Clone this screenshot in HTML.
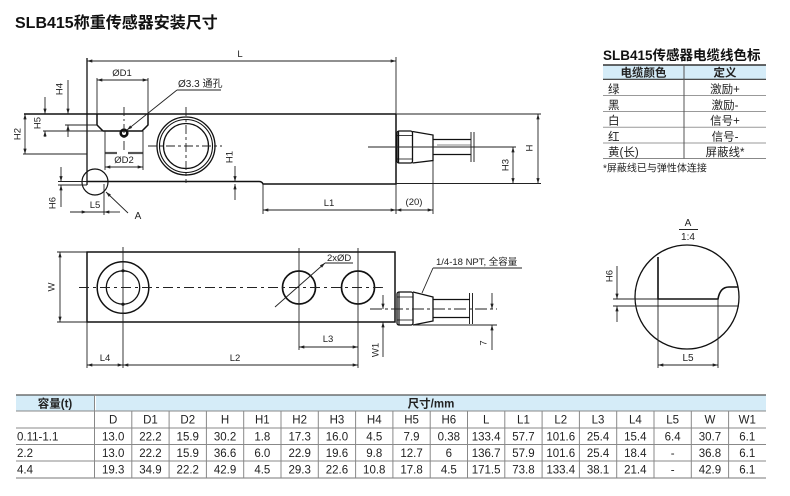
<!DOCTYPE html>
<html><head><meta charset="utf-8"><style>
html,body{margin:0;padding:0;background:#fff;}
svg{display:block;}
text{font-family:"Liberation Sans","Noto Sans CJK SC",sans-serif;fill:#222;}
</style></head><body>
<svg width="790" height="496" viewBox="0 0 790 496" xmlns="http://www.w3.org/2000/svg">
<defs>
<marker id="a" viewBox="0 0 10 6" refX="10" refY="3" markerWidth="6" markerHeight="3.2" markerUnits="userSpaceOnUse" orient="auto-start-reverse"><path d="M0,0L10,3L0,6z" fill="#222"/></marker>
</defs>

<text x="15" y="28" font-size="16" font-weight="bold" style="fill:#111">SLB415称重传感器安装尺寸</text>

<!-- ============ TOP VIEW ============ -->
<g fill="none" stroke="#111" stroke-width="1.5">
  <line x1="24" y1="114" x2="396" y2="114"/>
  <line x1="87" y1="58" x2="87" y2="185" stroke-width="1.3"/>
  <path d="M87,181.5 H259 Q262,181.5 263,184 H396 V114"/>
  <path d="M97,114 V125 L103,131 H142 L148,125 V114"/>
  <circle cx="186" cy="146" r="29" stroke-width="1.3"/>
  <circle cx="186" cy="146" r="26.5" stroke-width="1.1"/>
  <circle cx="186" cy="146" r="22.5" stroke-width="1.3"/>
  <circle cx="124" cy="133" r="3.3" stroke-width="2.6"/>
  <circle cx="95" cy="182" r="13" stroke-width="1.2"/>
  <!-- gland top -->
  <rect x="397" y="131" width="15.5" height="32" rx="2" stroke-width="1.3"/>
  <line x1="398.5" y1="131" x2="398.5" y2="163" stroke-width="1.3"/>
  <line x1="397" y1="135.5" x2="412.5" y2="135.5" stroke-width="0.8"/>
  <line x1="397" y1="159" x2="412.5" y2="159" stroke-width="0.8"/>
  <path d="M412.5,131.5 L433,135 V160.5 L412.5,163" stroke-width="1.3"/>
  <line x1="433" y1="139.5" x2="470.5" y2="139.5" stroke-width="1.2"/>
  <line x1="433" y1="154.5" x2="470.5" y2="154.5" stroke-width="1.2"/>
  <line x1="437" y1="145" x2="470.5" y2="145" stroke-width="0.6"/>
  <line x1="471" y1="132" x2="471" y2="162" stroke-width="0.9"/>
  <line x1="474" y1="132" x2="474" y2="162" stroke-width="0.9"/>
</g>
<g fill="none" stroke="#222" stroke-width="0.9">
  <!-- thick hidden dashes -->
  <line x1="105" y1="153" x2="117" y2="153" stroke="#555" stroke-width="2.2"/>
  <line x1="128" y1="153" x2="143" y2="153" stroke="#555" stroke-width="2.2"/>
  <!-- ext lines -->
  <line x1="396" y1="57" x2="396" y2="114"/>
  <line x1="97" y1="78" x2="97" y2="114"/>
  <line x1="148" y1="78" x2="148" y2="114"/>
  <line x1="65" y1="125" x2="97" y2="125"/>
  <line x1="43" y1="131" x2="103" y2="131"/>
  <line x1="23" y1="154" x2="87" y2="154"/>
  <line x1="105" y1="131" x2="105" y2="170"/>
  <line x1="143" y1="131" x2="143" y2="170"/>
  <line x1="58" y1="181.5" x2="87" y2="181.5"/>
  <line x1="58" y1="185" x2="87" y2="185"/>
  <line x1="104" y1="184" x2="104" y2="215"/>
  <line x1="263" y1="184" x2="263" y2="214"/>
  <line x1="396" y1="184" x2="396" y2="214"/>
  <line x1="433" y1="161" x2="433" y2="214"/>
  <line x1="396" y1="114" x2="541" y2="114"/>
  <line x1="396" y1="183.5" x2="541" y2="183.5"/>
  <!-- centerlines -->
  <line x1="124" y1="107" x2="124" y2="152" stroke-dasharray="9,3,2,3"/>
  <line x1="148" y1="146" x2="222" y2="146" stroke-dasharray="9,3,3,3"/>
  <line x1="186" y1="107" x2="186" y2="183" stroke-dasharray="9,3,3,3"/>
  <line x1="368" y1="147" x2="516" y2="147"/>
  <!-- dimensions -->
  <line x1="87" y1="61" x2="396" y2="61" marker-start="url(#a)" marker-end="url(#a)"/>
  <line x1="97" y1="80" x2="148" y2="80" marker-start="url(#a)" marker-end="url(#a)"/>
  <line x1="105" y1="167" x2="143" y2="167" marker-start="url(#a)" marker-end="url(#a)"/>
  <line x1="177" y1="90" x2="127" y2="130" marker-end="url(#a)"/>
  <line x1="177" y1="90" x2="221" y2="90"/>
  <line x1="68" y1="80" x2="68" y2="114" marker-end="url(#a)"/>
  <line x1="68" y1="137" x2="68" y2="125" marker-end="url(#a)"/>
  <line x1="45" y1="97" x2="45" y2="114" marker-end="url(#a)"/>
  <line x1="45" y1="137" x2="45" y2="131" marker-end="url(#a)"/>
  <line x1="25" y1="114" x2="25" y2="154" marker-start="url(#a)" marker-end="url(#a)"/>
  <line x1="61" y1="167" x2="61" y2="181.5" marker-end="url(#a)"/>
  <line x1="61" y1="207" x2="61" y2="185" marker-end="url(#a)"/>
  <line x1="235" y1="166" x2="235" y2="181.5" marker-end="url(#a)"/>
  <line x1="235" y1="200" x2="235" y2="184" marker-end="url(#a)"/>
  <line x1="70" y1="212" x2="87" y2="212" marker-end="url(#a)"/>
  <line x1="87" y1="212" x2="104" y2="212"/>
  <line x1="120" y1="212" x2="104" y2="212" marker-end="url(#a)"/>
  <line x1="128" y1="213" x2="106" y2="192" marker-end="url(#a)"/>
  <line x1="263" y1="210" x2="396" y2="210" marker-start="url(#a)" marker-end="url(#a)"/>
  <line x1="396" y1="210" x2="433" y2="210" marker-start="url(#a)" marker-end="url(#a)"/>
  <line x1="538" y1="114" x2="538" y2="183.5" marker-start="url(#a)" marker-end="url(#a)"/>
  <line x1="513" y1="147" x2="513" y2="183.5" marker-start="url(#a)" marker-end="url(#a)"/>
</g>
<g font-size="9.5" text-anchor="middle">
  <text x="240" y="57">L</text>
  <text x="122" y="76">ØD1</text>
  <text x="124" y="163">ØD2</text>
  <text x="178" y="87" text-anchor="start" font-size="10">Ø3.3 通孔</text>
  <text x="95" y="208">L5</text>
  <text x="138" y="219" font-size="10">A</text>
  <text x="329" y="206">L1</text>
  <text x="414" y="205">(20)</text>
  <text transform="translate(60,89) rotate(-90)" dominant-baseline="central">H4</text>
  <text transform="translate(38,123) rotate(-90)" dominant-baseline="central">H5</text>
  <text transform="translate(18,134) rotate(-90)" dominant-baseline="central">H2</text>
  <text transform="translate(53,203) rotate(-90)" dominant-baseline="central">H6</text>
  <text transform="translate(230,157) rotate(-90)" dominant-baseline="central">H1</text>
  <text transform="translate(530,148) rotate(-90)" dominant-baseline="central">H</text>
  <text transform="translate(506,165) rotate(-90)" dominant-baseline="central">H3</text>
</g>

<!-- ============ MIDDLE VIEW ============ -->
<g fill="none" stroke="#111" stroke-width="1.5">
  <rect x="87" y="252" width="308" height="70"/>
  <circle cx="123" cy="287.5" r="25.8"/>
  <circle cx="123" cy="287.5" r="16.7" stroke-width="1.3"/>
  <circle cx="299" cy="287.5" r="16.5" stroke-width="1.7"/>
  <circle cx="358" cy="287.5" r="16.5" stroke-width="1.7"/>
  <rect x="397" y="292" width="16" height="33" rx="2" stroke-width="1.3"/>
  <line x1="399" y1="292" x2="399" y2="325" stroke-width="1.2"/>
  <line x1="397" y1="297" x2="413" y2="297" stroke-width="0.8"/>
  <line x1="397" y1="320" x2="413" y2="320" stroke-width="0.8"/>
  <path d="M413,292 L433,297 V321 L413,325" stroke-width="1.3"/>
  <line x1="433" y1="299.5" x2="470" y2="299.5" stroke-width="1.2"/>
  <line x1="433" y1="317.5" x2="470" y2="317.5" stroke-width="1.2"/>
  <line x1="469.5" y1="293" x2="469.5" y2="324" stroke-width="0.9"/>
  <line x1="472.5" y1="293" x2="472.5" y2="324" stroke-width="0.9"/>
</g>
<circle cx="123" cy="270.8" r="1.6" fill="#111"/>
<circle cx="123" cy="304.2" r="1.6" fill="#111"/>
<g fill="none" stroke="#222" stroke-width="0.9">
  <line x1="79" y1="287.5" x2="386" y2="287.5" stroke-dasharray="10,4,3,4"/>
  <line x1="123" y1="247" x2="123" y2="368"/>
  <line x1="299" y1="248" x2="299" y2="350"/>
  <line x1="358" y1="248" x2="358" y2="368"/>
  <line x1="87" y1="322" x2="87" y2="368"/>
  <line x1="57" y1="252" x2="87" y2="252"/>
  <line x1="57" y1="322" x2="87" y2="322"/>
  <line x1="60" y1="252" x2="60" y2="322" marker-start="url(#a)" marker-end="url(#a)"/>
  <line x1="87" y1="365" x2="123" y2="365" marker-start="url(#a)" marker-end="url(#a)"/>
  <line x1="123" y1="365" x2="358" y2="365" marker-start="url(#a)" marker-end="url(#a)"/>
  <line x1="299" y1="347" x2="358" y2="347" marker-start="url(#a)" marker-end="url(#a)"/>
  <line x1="325" y1="263" x2="275" y2="307" marker-start="url(#a)"/>
  <line x1="325" y1="263" x2="353" y2="263"/>
  <line x1="422" y1="293" x2="433" y2="268"/>
  <line x1="433" y1="268" x2="522" y2="268"/>
  <line x1="370" y1="309" x2="497" y2="309" stroke-dasharray="12,3,3,3"/>
  <line x1="413" y1="325" x2="497" y2="325"/>
  <line x1="383" y1="295" x2="383" y2="309" marker-end="url(#a)"/>
  <line x1="383" y1="357" x2="383" y2="322" marker-end="url(#a)"/>
  <line x1="492" y1="293" x2="492" y2="309" marker-end="url(#a)"/>
  <line x1="492" y1="350" x2="492" y2="325" marker-end="url(#a)"/>
</g>
<g font-size="9.5" text-anchor="middle">
  <text x="105" y="361">L4</text>
  <text x="235" y="361">L2</text>
  <text x="328" y="342">L3</text>
  <text x="327" y="261" text-anchor="start">2xØD</text>
  <text x="436" y="265" text-anchor="start">1/4-18 NPT, 全容量</text>
  <text transform="translate(52,287) rotate(-90)" dominant-baseline="central">W</text>
  <text transform="translate(376,350) rotate(-90)" dominant-baseline="central">W1</text>
  <text transform="translate(484,343) rotate(-90)" dominant-baseline="central">7</text>
</g>

<!-- ============ DETAIL A ============ -->
<g fill="none" stroke="#111">
  <circle cx="687" cy="297" r="52" stroke-width="1.3"/>
  <path d="M658,257 V299 H718 Q720,287 729,287 H738" stroke-width="1.6"/>
</g>
<g fill="none" stroke="#222" stroke-width="0.9">
  <line x1="679" y1="229.5" x2="698" y2="229.5"/>
  <line x1="613" y1="306" x2="739" y2="306"/>
  <line x1="613" y1="299" x2="658" y2="299"/>
  <line x1="617" y1="266" x2="617" y2="299" marker-end="url(#a)"/>
  <line x1="617" y1="322" x2="617" y2="306" marker-end="url(#a)"/>
  <line x1="658" y1="299" x2="658" y2="368"/>
  <line x1="718" y1="299" x2="718" y2="368"/>
  <line x1="658" y1="365" x2="718" y2="365" marker-start="url(#a)" marker-end="url(#a)"/>
</g>
<g font-size="10" text-anchor="middle">
  <text x="688" y="226">A</text>
  <text x="688" y="240">1:4</text>
  <text x="688" y="361">L5</text>
  <text transform="translate(610,276) rotate(-90)" dominant-baseline="central" font-size="9.5">H6</text>
</g>

<!-- ============ CABLE COLOUR TABLE ============ -->
<text x="603" y="60" font-size="13.5" font-weight="bold" style="fill:#111">SLB415传感器电缆线色标</text>
<rect x="603" y="65" width="163" height="14" fill="#d5ecf8"/>
<g stroke-width="1">
  <line x1="603" y1="65" x2="766" y2="65" stroke="#333" stroke-width="1.5"/>
  <line x1="603" y1="79.3" x2="766" y2="79.3" stroke="#333" stroke-width="1.2"/>
  <line x1="603" y1="95.5" x2="766" y2="95.5" stroke="#999"/>
  <line x1="603" y1="111.5" x2="766" y2="111.5" stroke="#999"/>
  <line x1="603" y1="127.2" x2="766" y2="127.2" stroke="#999"/>
  <line x1="603" y1="143" x2="766" y2="143" stroke="#999"/>
  <line x1="603" y1="158.5" x2="766" y2="158.5" stroke="#888"/>
  <line x1="684" y1="65" x2="684" y2="158.5" stroke="#555"/>
</g>
<g font-size="11.5">
  <text x="643.5" y="76.5" text-anchor="middle" font-weight="bold">电缆颜色</text>
  <text x="725" y="76.5" text-anchor="middle" font-weight="bold">定义</text>
  <text x="608" y="93">绿</text>
  <text x="608" y="108.8">黑</text>
  <text x="608" y="124.6">白</text>
  <text x="608" y="140.4">红</text>
  <text x="608" y="156.2">黄(长)</text>
  <g text-anchor="middle">
    <text x="725" y="93">激励+</text>
    <text x="725" y="108.8">激励-</text>
    <text x="725" y="124.6">信号+</text>
    <text x="725" y="140.4">信号-</text>
    <text x="725" y="156.2">屏蔽线*</text>
  </g>
</g>
<text x="603" y="171.5" font-size="10">*屏蔽线已与弹性体连接</text>

<!-- ============ BOTTOM TABLE ============ -->
<rect x="16" y="395" width="78" height="16" fill="#d5ecf8"/>
<rect x="96" y="395" width="670" height="16" fill="#d5ecf8"/>
<g stroke="#888" stroke-width="1">
  <line x1="16" y1="395" x2="766" y2="395" stroke="#555" stroke-width="1.2"/>
  <line x1="16" y1="411" x2="766" y2="411"/>
  <line x1="16" y1="428" x2="766" y2="428"/>
  <line x1="16" y1="444.5" x2="766" y2="444.5"/>
  <line x1="16" y1="461" x2="766" y2="461"/>
  <line x1="16" y1="478" x2="766" y2="478" stroke="#777"/>
  <line x1="94.5" y1="395" x2="94.5" y2="478"/>
  <line x1="131.8" y1="411" x2="131.8" y2="478"/>
  <line x1="169.1" y1="411" x2="169.1" y2="478"/>
  <line x1="206.4" y1="411" x2="206.4" y2="478"/>
  <line x1="243.7" y1="411" x2="243.7" y2="478"/>
  <line x1="281" y1="411" x2="281" y2="478"/>
  <line x1="318.3" y1="411" x2="318.3" y2="478"/>
  <line x1="355.6" y1="411" x2="355.6" y2="478"/>
  <line x1="392.9" y1="411" x2="392.9" y2="478"/>
  <line x1="430.2" y1="411" x2="430.2" y2="478"/>
  <line x1="467.5" y1="411" x2="467.5" y2="478"/>
  <line x1="504.8" y1="411" x2="504.8" y2="478"/>
  <line x1="542.1" y1="411" x2="542.1" y2="478"/>
  <line x1="579.4" y1="411" x2="579.4" y2="478"/>
  <line x1="616.7" y1="411" x2="616.7" y2="478"/>
  <line x1="654" y1="411" x2="654" y2="478"/>
  <line x1="691.3" y1="411" x2="691.3" y2="478"/>
  <line x1="728.6" y1="411" x2="728.6" y2="478"/>
</g>
<g font-size="11.5" style="fill:#333">
  <text x="55" y="407.5" text-anchor="middle" font-weight="bold">容量(t)</text>
  <text x="431" y="407.5" text-anchor="middle" font-weight="bold">尺寸/mm</text>
  <text x="17" y="440.5">0.11-1.1</text>
  <text x="17" y="457">2.2</text>
  <text x="17" y="473.5">4.4</text>
</g>
<g font-size="11.5" text-anchor="middle">
  <text x="113.15" y="423.5">D</text><text x="150.45" y="423.5">D1</text><text x="187.75" y="423.5">D2</text><text x="225.05" y="423.5">H</text><text x="262.35" y="423.5">H1</text><text x="299.65" y="423.5">H2</text><text x="336.95" y="423.5">H3</text><text x="374.25" y="423.5">H4</text><text x="411.55" y="423.5">H5</text><text x="448.85" y="423.5">H6</text><text x="486.15" y="423.5">L</text><text x="523.45" y="423.5">L1</text><text x="560.75" y="423.5">L2</text><text x="598.05" y="423.5">L3</text><text x="635.35" y="423.5">L4</text><text x="672.65" y="423.5">L5</text><text x="709.95" y="423.5">W</text><text x="747.25" y="423.5">W1</text>

  <text x="113.15" y="440.5">13.0</text><text x="150.45" y="440.5">22.2</text><text x="187.75" y="440.5">15.9</text><text x="225.05" y="440.5">30.2</text><text x="262.35" y="440.5">1.8</text><text x="299.65" y="440.5">17.3</text><text x="336.95" y="440.5">16.0</text><text x="374.25" y="440.5">4.5</text><text x="411.55" y="440.5">7.9</text><text x="448.85" y="440.5">0.38</text><text x="486.15" y="440.5">133.4</text><text x="523.45" y="440.5">57.7</text><text x="560.75" y="440.5">101.6</text><text x="598.05" y="440.5">25.4</text><text x="635.35" y="440.5">15.4</text><text x="672.65" y="440.5">6.4</text><text x="709.95" y="440.5">30.7</text><text x="747.25" y="440.5">6.1</text>

  <text x="113.15" y="457">13.0</text><text x="150.45" y="457">22.2</text><text x="187.75" y="457">15.9</text><text x="225.05" y="457">36.6</text><text x="262.35" y="457">6.0</text><text x="299.65" y="457">22.9</text><text x="336.95" y="457">19.6</text><text x="374.25" y="457">9.8</text><text x="411.55" y="457">12.7</text><text x="448.85" y="457">6</text><text x="486.15" y="457">136.7</text><text x="523.45" y="457">57.9</text><text x="560.75" y="457">101.6</text><text x="598.05" y="457">25.4</text><text x="635.35" y="457">18.4</text><text x="672.65" y="457">-</text><text x="709.95" y="457">36.8</text><text x="747.25" y="457">6.1</text>

  <text x="113.15" y="473.5">19.3</text><text x="150.45" y="473.5">34.9</text><text x="187.75" y="473.5">22.2</text><text x="225.05" y="473.5">42.9</text><text x="262.35" y="473.5">4.5</text><text x="299.65" y="473.5">29.3</text><text x="336.95" y="473.5">22.6</text><text x="374.25" y="473.5">10.8</text><text x="411.55" y="473.5">17.8</text><text x="448.85" y="473.5">4.5</text><text x="486.15" y="473.5">171.5</text><text x="523.45" y="473.5">73.8</text><text x="560.75" y="473.5">133.4</text><text x="598.05" y="473.5">38.1</text><text x="635.35" y="473.5">21.4</text><text x="672.65" y="473.5">-</text><text x="709.95" y="473.5">42.9</text><text x="747.25" y="473.5">6.1</text>
</g>
</svg>
</body></html>
